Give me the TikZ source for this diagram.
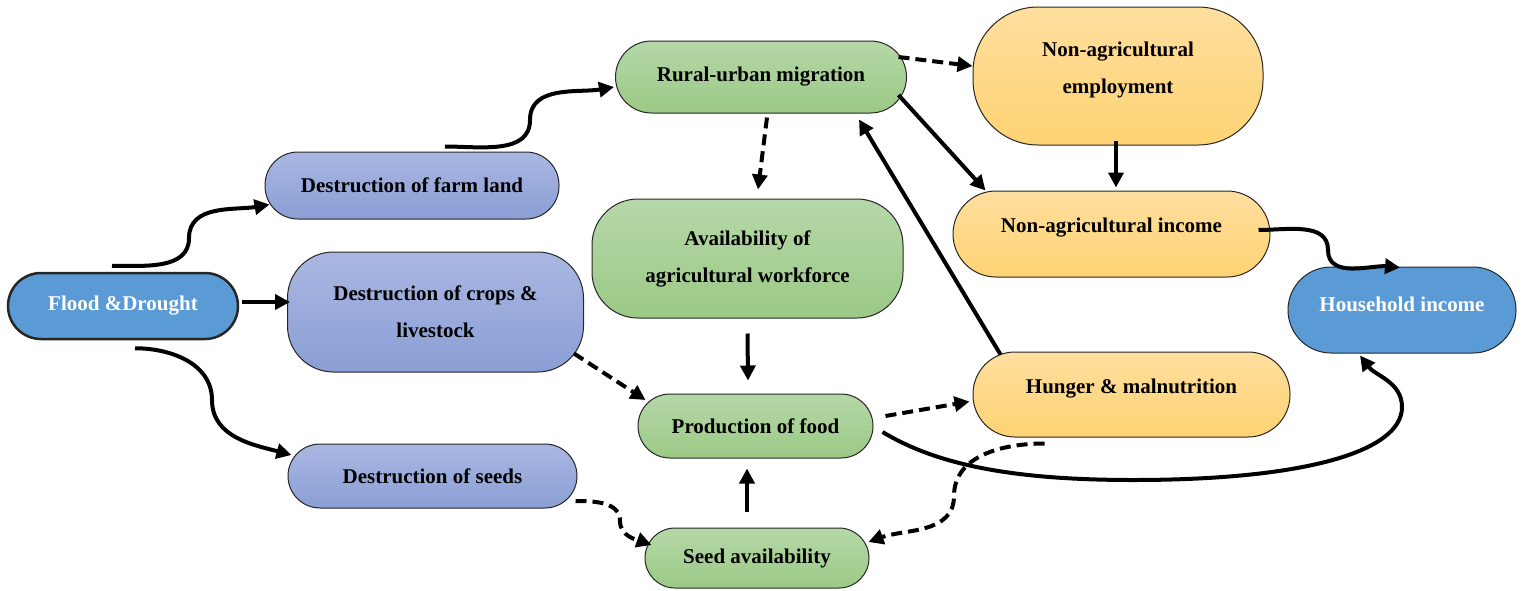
\documentclass[tikz,border=0pt]{standalone}
\usepackage{fontspec}
\setmainfont{Liberation Serif}
\usepackage{xcolor}
\usetikzlibrary{arrows.meta}
\definecolor{hblue}{RGB}{91,155,213}
\definecolor{lavtop}{RGB}{170,183,226}
\definecolor{lavbot}{RGB}{138,158,213}
\definecolor{grntop}{RGB}{182,216,168}
\definecolor{grnbot}{RGB}{155,201,134}
\definecolor{orgtop}{RGB}{255,222,158}
\definecolor{orgbot}{RGB}{255,211,116}

\begin{document}
\begin{tikzpicture}[x=1pt,y=1pt,
   box/.style={draw=black!85,line width=1pt,align=center,inner sep=0pt,
     font=\bfseries\fontsize{21}{37}\selectfont},
   lav/.style={box,top color=lavtop,bottom color=lavbot},
   grn/.style={box,top color=grntop,bottom color=grnbot},
   org/.style={box,top color=orgtop,bottom color=orgbot},
   blu/.style={box,fill=hblue,text=white},
   arr/.style={line width=4pt,-{Triangle[length=15pt,width=15pt]}},
   darr/.style={arr,dash pattern=on 11pt off 6pt}]
   \useasboundingbox (0,0) rectangle (1529,-590);
   % left column
   \node[blu,line width=2.5pt,minimum width=230pt,minimum height=66pt,rounded corners=33pt] (flood) at (123,-306) {Flood \&Drought};
   \node[lav,minimum width=294pt,minimum height=67pt,rounded corners=33pt] (farm) at (412,-185.5) {Destruction of farm land};
   \node[lav,minimum width=296pt,minimum height=120pt,rounded corners=46pt] (crops) at (435.5,-312) {Destruction of crops \&\\livestock};
   \node[lav,minimum width=289pt,minimum height=64pt,rounded corners=32pt] (seeds) at (432.5,-476) {Destruction of seeds};
   % middle column
   \node[grn,minimum width=291pt,minimum height=72pt,rounded corners=36pt] (rural) at (761,-77) {Rural-urban migration};
   \node[grn,minimum width=311pt,minimum height=119pt,rounded corners=46pt] (work) at (747.5,-258.5) {Availability of\\agricultural workforce};
   \node[grn,minimum width=235pt,minimum height=64pt,rounded corners=32pt] (prod) at (755.5,-426) {Production of food};
   \node[grn,minimum width=224pt,minimum height=60pt,rounded corners=30pt] (seedav) at (757,-558) {Seed availability};
   % right column
   \node[org,text depth=17pt,minimum width=290pt,minimum height=138pt,rounded corners=65pt] (emp) at (1118,-76) {Non-agricultural\\employment};
   \node[org,text depth=17pt,minimum width=317pt,minimum height=86pt,rounded corners=43pt] (inc) at (1111.5,-234) {Non-agricultural income};
   \node[org,text depth=17pt,minimum width=317pt,minimum height=85pt,rounded corners=42pt] (hunger) at (1131.5,-394.5) {Hunger \& malnutrition};
   \node[blu,text depth=12pt,minimum width=228pt,minimum height=86pt,rounded corners=43pt] (house) at (1402,-310) {Household income};

   \draw[arr] ([xshift=-11pt,yshift=6pt]flood.north) to[out=0,in=-90] (189,-238) to[out=90,in=190] ([xshift=5pt,yshift=-19pt]farm.west);
   \draw[arr] ([xshift=3pt,yshift=4pt]flood.east) -- ([xshift=3pt,yshift=10pt]crops.west);
   \draw[arr] ([xshift=12pt,yshift=-8pt]flood.south) to[out=0,in=90] (212,-400) to[out=-90,in=165] ([xshift=4pt,yshift=21pt]seeds.west);
   \draw[arr] ([xshift=33pt,yshift=5pt]farm.north) to[out=0,in=-90] (530,-120) to[out=90,in=190] ([xshift=-1pt,yshift=-10pt]rural.west);
   \draw[darr] ([xshift=-10pt,yshift=19pt]crops.south east) -- ([xshift=8pt,yshift=26pt]prod.west);
   \draw[darr] ([xshift=-2pt,yshift=-25pt]seeds.east) to[out=0,in=90] (620,-521) to[out=-90,in=160] ([xshift=7pt,yshift=13pt]seedav.west);
   \draw[arr] ([xshift=-10pt,yshift=16pt]seedav.north) -- ([xshift=-8.5pt,yshift=-10pt]prod.south);
   \draw[arr] ([yshift=-15pt]work.south) -- ([xshift=-7.5pt,yshift=13pt]prod.north);
   \draw[darr] ([xshift=6pt,yshift=-4pt]rural.south) -- ([xshift=10.5pt,yshift=9pt]work.north);
   \draw[darr] ([xshift=-8.5pt,yshift=20pt]rural.east) -- ([yshift=10pt]emp.west);
   \draw[arr] ([xshift=-8.5pt,yshift=-18pt]rural.east) -- ([xshift=33pt]inc.north west);
   \draw[arr] ([xshift=28pt,yshift=-3pt]hunger.north west) -- ([xshift=-48pt,yshift=-6pt]rural.south east);
   \draw[arr] ([xshift=-2pt,yshift=5pt]emp.south) -- ([xshift=4.5pt,yshift=3pt]inc.north);
   \draw[arr] ([xshift=-12pt,yshift=4pt]inc.east) to[out=0,in=90] (1328,-250) to[out=-90,in=175] ([xshift=-2pt,yshift=-1pt]house.north);
   \draw[arr] ([xshift=9pt,yshift=-6pt]prod.east) .. controls +(50,-30) and +(-130,0) .. (1133,-480)
      .. controls +(170,0) and +(0,-45) .. (1402,-407) .. controls +(0,25) and +(15,-20) .. ([xshift=-42pt,yshift=-2pt]house.south);
   \draw[darr] ([xshift=72pt,yshift=-6pt]hunger.south west) to[out=180,in=90] (954,-496) to[out=-90,in=20] ([xshift=-1pt,yshift=16pt]seedav.east);
   \draw[darr] ([xshift=12pt,yshift=10pt]prod.east) -- ([xshift=-3pt,yshift=-7pt]hunger.west);
\end{tikzpicture}
\end{document}
